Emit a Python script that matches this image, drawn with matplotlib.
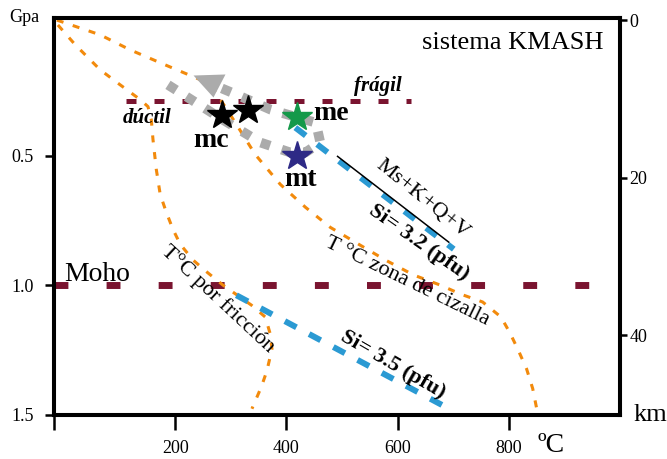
import matplotlib
matplotlib.use("Agg")
import matplotlib.pyplot as plt

plt.rcParams['font.family'] = ['Liberation Serif', 'DejaVu Serif']

# T (°C) vs P (GPa) curves
t_cizalla = [-13, 65, 119, 182, 245, 272, 299, 344, 389, 434, 479, 533, 578,
             629, 677, 714, 753, 786, 802, 816, 832, 843, 852]
p_cizalla = [-0.024, 0.033, 0.091, 0.149, 0.206, 0.252, 0.341, 0.495, 0.610,
             0.698, 0.776, 0.845, 0.902, 0.960, 0.999, 1.034, 1.064, 1.122,
             1.183, 1.245, 1.322, 1.398, 1.495]

t_friccion = [-11, 20, 65, 101, 137, 151, 157, 160, 166, 173, 184, 196, 209,
              232, 259, 286, 337, 362, 371, 374, 365, 355, 338]
p_friccion = [-0.005, 0.071, 0.168, 0.226, 0.283, 0.310, 0.361, 0.437, 0.553,
              0.649, 0.718, 0.784, 0.841, 0.902, 0.952, 0.999, 1.076, 1.122,
              1.188, 1.245, 1.329, 1.391, 1.476]

t_si32 = [416, 701]
p_si32 = [0.391, 0.860]
t_si35 = [310, 683]
p_si35 = [1.038, 1.465]
t_ms = [492, 692]
p_ms = [0.502, 0.833]

t_moho = [-18, 950]
p_moho = [1.0, 1.0]
t_fragil = [112, 625]
p_fragil = [0.29, 0.29]

# P-T path (gray arrow)
t_path = [187, 286, 354, 407, 434, 461, 453, 372, 302, 272]
p_path = [0.226, 0.361, 0.449, 0.487, 0.487, 0.449, 0.372, 0.322, 0.256, 0.229]
t_arrow, p_arrow = 261, 0.226

# samples
t_mc = [284, 331]
p_mc = [0.341, 0.323]
t_me, p_me = 419, 0.349
t_mt, p_mt = 419, 0.502

orange = '#F28A0C'
maroon = '#7A1430'
blue = '#2B9AD3'
gray = '#ABABAB'

fig = plt.figure(figsize=(6.67, 4.59), dpi=100)
ax = fig.add_axes([0.081, 0.0959, 0.8485, 0.8649])

ax.plot(t_moho, p_moho, color=maroon, lw=5, dashes=(2.0, 5.5), zorder=2)
ax.plot(t_fragil, p_fragil, color=maroon, lw=3.6, dashes=(2.0, 3.6), zorder=2)

ax.plot(t_cizalla, p_cizalla, color=orange, lw=2.2, dashes=(2.3, 3.2), zorder=3)
ax.plot(t_friccion, p_friccion, color=orange, lw=2.2, dashes=(2.3, 3.2), zorder=3)

ax.plot(t_si32, p_si32, color=blue, lw=4.3, dashes=(2.2, 2.4), zorder=3)
ax.plot(t_si35, p_si35, color=blue, lw=4.3, dashes=(2.2, 2.4), zorder=3)
ax.plot(t_ms, p_ms, color='black', lw=1.1, zorder=3)

ax.plot(t_path, p_path, color=gray, lw=7, dashes=(1, 1.25), zorder=4)
ax.plot(t_arrow, p_arrow, color=gray, ms=23, mew=0,
        marker=[(-1, 0.625), (1, 0.69), (0.25, -0.75)], zorder=4)

ax.plot(t_mc, p_mc, '*', color='black', ms=22, zorder=5)
ax.plot(t_me, p_me, '*', color='#14994A', ms=22, zorder=5)
ax.plot(t_mt, p_mt, '*', color='#2E2A86', ms=22, zorder=5)

ax.text(265, 0.440, 'mc', fontsize=20, fontweight='bold', ha='center', va='center')
ax.text(480, 0.338, 'me', fontsize=20, fontweight='bold', ha='center', va='center')
ax.text(425, 0.590, 'mt', fontsize=20, fontweight='bold', ha='center', va='center')

ax.text(565, 0.229, 'frágil', fontsize=15, fontweight='bold', style='italic',
        ha='center', va='center')
ax.text(149, 0.353, 'dúctil', fontsize=15, fontweight='bold', style='italic',
        ha='center', va='center')
ax.text(59, 0.956, 'Moho', fontsize=20, ha='center', va='center')
ax.text(970, 0.064, 'sistema KMASH', fontsize=19, ha='right', va='center')

ax.text(644, 0.668, 'Ms+K+Q+V', fontsize=16, rotation=-39,
        rotation_mode='anchor', ha='center', va='center')
ax.text(639, 0.834, 'Si= 3.2 (pfu)', fontsize=16, fontweight='bold',
        rotation=-35, rotation_mode='anchor', ha='center', va='center')
ax.text(617, 0.984, 'T °C zona de cizalla', fontsize=16, rotation=-26,
        rotation_mode='anchor', ha='center', va='center')
ax.text(277, 1.053, 'T°C por fricción', fontsize=16, rotation=-43,
        rotation_mode='anchor', ha='center', va='center')
ax.text(592, 1.307, 'Si= 3.5 (pfu)', fontsize=16, fontweight='bold',
        rotation=-30, rotation_mode='anchor', ha='center', va='center')

ax.set_xlim(-18, 1000)
ax.set_ylim(1.495, -0.032)
ax.set_xticks([-18, 200, 400, 600, 800])
ax.set_xticklabels(['', '200', '400', '600', '800'])
ax.set_yticks([0.5, 1.0, 1.5])
ax.set_yticklabels(['0.5', '1.0', '1.5'])
ax.tick_params(axis='x', length=11, width=1.8, pad=7, labelsize=13)
ax.tick_params(axis='y', length=6.5, width=1.8, pad=8, labelsize=13)
for s in ax.spines.values():
    s.set_linewidth(2.9)

ax2 = ax.twinx()
ax2.set_ylim(50.1, -0.28)
ax2.set_yticks([0, 20, 40])
ax2.tick_params(axis='y', length=5, width=1.8, pad=2, labelsize=13)
for s in ax2.spines.values():
    s.set_linewidth(2.9)

ax.text(-0.053, 1.0, 'Gpa', transform=ax.transAxes, fontsize=13,
        ha='center', va='center')
ax.text(1.053, 0.0, 'km', transform=ax.transAxes, fontsize=19,
        ha='center', va='center')
ax.text(0.878, -0.076, 'ºC', transform=ax.transAxes, fontsize=20,
        ha='center', va='center')

fig.savefig('out.png', dpi=100)
